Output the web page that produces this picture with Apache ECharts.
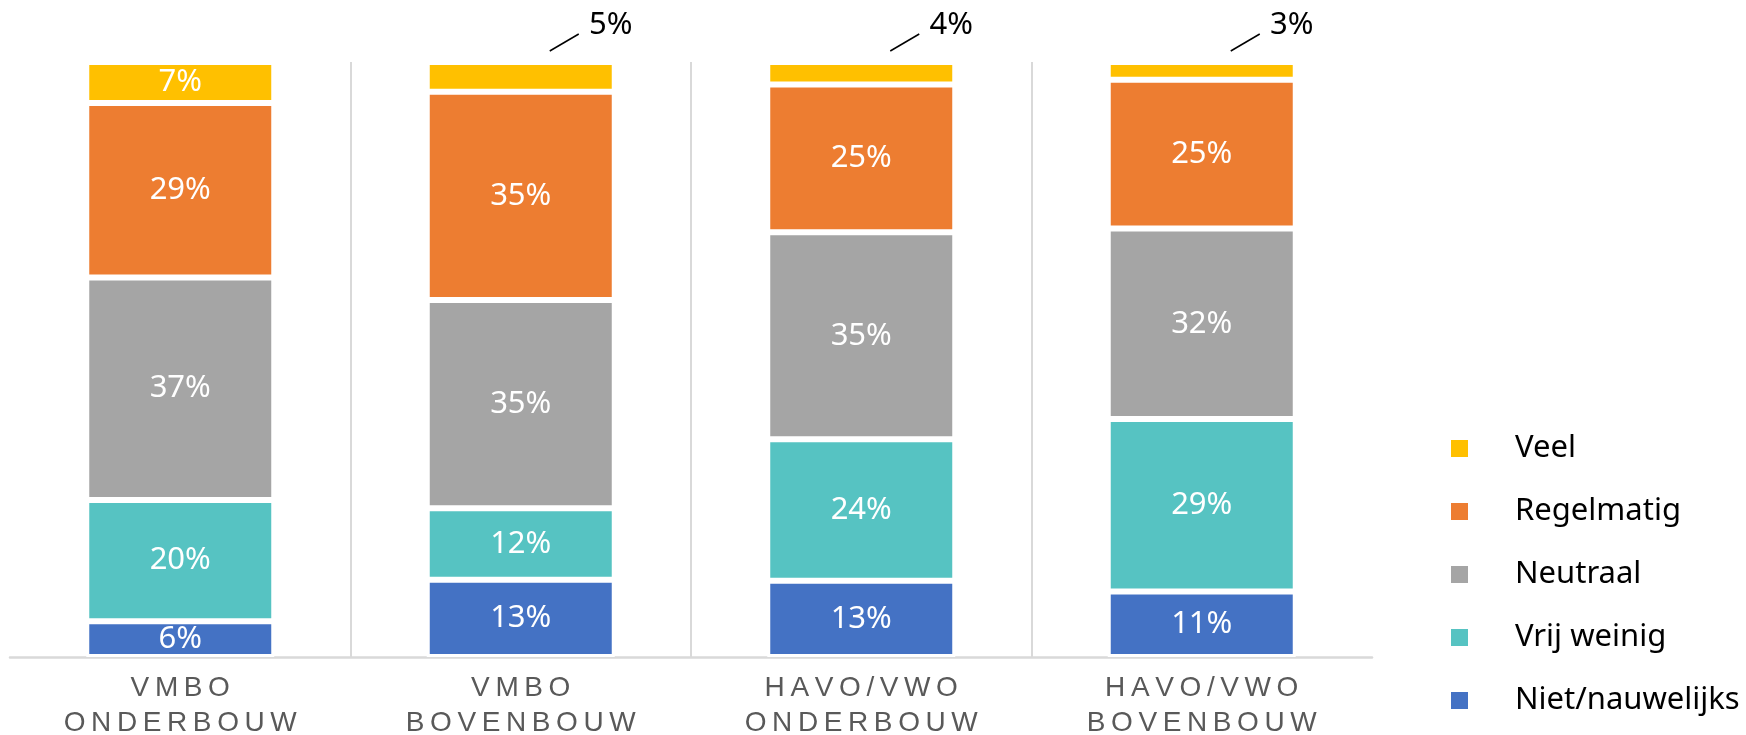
<!DOCTYPE html>
<html>
<head>
<meta charset="utf-8">
<script src="https://cdn.jsdelivr.net/npm/echarts@6/dist/echarts.min.js"></script>
<style>
html, body { margin: 0; padding: 0; background: #fff; }
#chart { width: 1746px; height: 735px; }
</style>
</head>
<body>
<div id="chart"></div>
<script>
// Percentages per group (shares, each group adds up to 100)
const categories = ['VMBO\nONDERBOUW', 'VMBO\nBOVENBOUW', 'HAVO/VWO\nONDERBOUW', 'HAVO/VWO\nBOVENBOUW'];
const nietNauwelijks = [6.0, 13.0, 12.8, 11.0];
const vrijWeinig = [20.4, 12.0, 23.8, 29.0];
const neutraal = [37.4, 35.0, 34.8, 32.0];
const regelmatig = [29.3, 35.0, 24.8, 25.0];
const veel = [6.9, 5.0, 3.8, 3.0];
const legendNames = ['Veel', 'Regelmatig', 'Neutraal', 'Vrij weinig', 'Niet/nauwelijks'];

const chart = echarts.init(document.getElementById('chart'));

// wide letter spacing on the axis labels
const spaced = s => s.split('\n').map(l => l.split('').join('\u2009')).join('\n');
const pct = p => Math.round(p.value) + '%';
const isSmall = v => v < 6;

function barSeries(name, data, color) {
    return {
        name: name,
        type: 'bar',
        stack: 'total',
        barWidth: 188,
        data: data,
        itemStyle: { color: color, borderColor: '#fff', borderWidth: 3 },
        label: {
            show: true,
            position: 'inside',
            color: '#fff',
            fontSize: 31,
            fontFamily: 'Noto Sans',
            formatter: pct
        }
    };
}

// small "Veel" segments get their label above the bar
const veelSeries = barSeries('Veel', veel.map(v => isSmall(v) ? { value: v, label: { color: '#000' } } : v), '#FFC000');
veelSeries.labelLayout = function (params) {
    if (!isSmall(veel[params.dataIndex])) return {};
    const r = params.rect;
    return {
        x: r.x + r.width / 2 + 90,
        y: r.y - 37,
        align: 'center',
        verticalAlign: 'middle'
    };
};

// leader lines for those outside labels
const leaderSeries = {
    type: 'custom',
    silent: true,
    z: 5,
    data: veel.map((v, i) => [i, v]),
    renderItem: function (params, api) {
        if (!isSmall(api.value(1))) return null;
        const p = api.coord([api.value(0), 100]);
        return {
            type: 'line',
            shape: { x1: p[0] + 29, y1: p[1] - 11, x2: p[0] + 58, y2: p[1] - 28 },
            style: { stroke: '#000', lineWidth: 1.5 }
        };
    }
};

const options = {
    animation: false,
    grid: { left: 10, right: 374, top: 62, bottom: 78, outerBoundsMode: 'none', containLabel: false },
    legend: {
        orient: 'vertical',
        left: 1449,
        top: 433,
        padding: 0,
        itemWidth: 19,
        itemHeight: 19,
        itemGap: 32,
        icon: 'rect',
        data: legendNames,
        textStyle: {
            fontSize: 31,
            fontFamily: 'Noto Sans',
            color: '#000',
            lineHeight: 30,
            padding: [0, 0, 0, 41]
        }
    },
    xAxis: {
        type: 'category',
        data: categories,
        axisLine: { lineStyle: { color: '#d9d9d9', width: 2.5 } },
        axisTick: { show: false },
        splitLine: {
            show: true,
            showMinLine: false,
            showMaxLine: false,
            lineStyle: { color: '#d9d9d9', width: 2 }
        },
        axisLabel: {
            formatter: spaced,
            color: '#595959',
            fontSize: 28,
            fontFamily: 'Liberation Sans',
            lineHeight: 35,
            margin: 14
        }
    },
    yAxis: { type: 'value', min: 0, max: 100, show: false },
    series: [
        barSeries('Niet/nauwelijks', nietNauwelijks, '#4472C4'),
        barSeries('Vrij weinig', vrijWeinig, '#56C3C2'),
        barSeries('Neutraal', neutraal, '#A5A5A5'),
        barSeries('Regelmatig', regelmatig, '#ED7D31'),
        veelSeries,
        leaderSeries
    ]
};

chart.setOption(options);
</script>
</body>
</html>
